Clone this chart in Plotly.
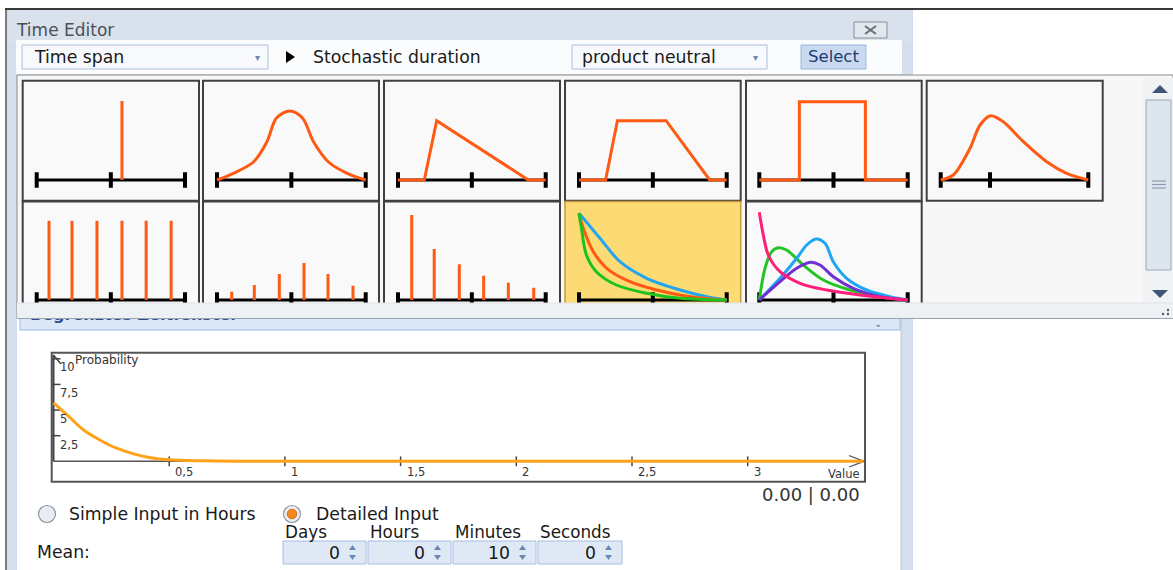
import plotly.graph_objects as go

W, H = 1173, 570

# ---------------- data ----------------
# main chart (probability density of stochastic duration)
prob_x = [0, 0.06, 0.13, 0.2, 0.27, 0.35, 0.42, 0.5, 0.65, 0.8, 1.0, 1.5, 2.0, 2.5, 3.0, 3.5]
prob_y = [5.7, 4.5, 3.05, 2.08, 1.3, 0.7, 0.35, 0.15, 0.05, 0.01, 0, 0, 0, 0, 0, 0]
x_tick_vals = [0.5, 1, 1.5, 2, 2.5, 3]
x_tick_labels = ["0,5", "1", "1,5", "2", "2,5", "3"]
y_tick_vals = [2.5, 5, 7.5, 10]
y_tick_labels = ["2,5", "5", "7,5", "10"]

# thumbnails (x: 0..2 along the axis, y: fraction of cell height)
spike_x = [1.15]
spike_h = [0.79]
normal_x = [0, 0.22, 0.49, 0.67, 0.8, 0.98, 1.15, 1.3, 1.5, 1.75, 2.0]
normal_y = [0, 0.067, 0.18, 0.38, 0.62, 0.69, 0.62, 0.38, 0.18, 0.067, 0]
tri_x = [0, 0.356, 0.524, 1.765, 2.0]
tri_y = [0, 0, 0.593, 0, 0]
trap_x = [0, 0.36, 0.52, 1.18, 1.77, 2.0]
trap_y = [0, 0, 0.593, 0.593, 0, 0]
unif_x = [0, 0.54, 0.54, 1.43, 1.43, 2.0]
unif_y = [0, 0, 0.783, 0.783, 0, 0]
lognorm_x = [0, 0.171, 0.397, 0.533, 0.677, 0.848, 1.12, 1.436, 1.707, 2.0]
lognorm_y = [0, 0.05, 0.317, 0.55, 0.643, 0.583, 0.383, 0.183, 0.067, 0]
equal_bars_x = [0.166, 0.476, 0.813, 1.15, 1.476, 1.813]
equal_bars_h = [0.793, 0.793, 0.793, 0.793, 0.793, 0.793]
binom_x = [0.198, 0.502, 0.838, 1.17, 1.493, 1.829]
binom_h = [0.083, 0.15, 0.26, 0.37, 0.26, 0.143]
geom_x = [0.186, 0.49, 0.83, 1.16, 1.494, 1.838]
geom_h = [0.85, 0.51, 0.357, 0.243, 0.173, 0.123]
exp_blue_x = [0, 0.284, 0.555, 0.917, 1.37, 1.73, 2.0]
exp_blue_y = [0.867, 0.617, 0.383, 0.217, 0.1, 0.033, 0]
exp_orange_x = [0, 0.058, 0.194, 0.375, 0.69, 1.05, 1.5, 2.0]
exp_orange_y = [0.867, 0.717, 0.483, 0.317, 0.183, 0.1, 0.033, 0]
exp_green_x = [0, 0.033, 0.1, 0.235, 0.506, 0.917, 1.37, 2.0]
exp_green_y = [0.867, 0.717, 0.45, 0.283, 0.15, 0.067, 0.017, 0]
gamma_pink_x = [0, 0.054, 0.121, 0.279, 0.549, 0.908, 1.357, 2.0]
gamma_pink_y = [0.877, 0.65, 0.45, 0.283, 0.167, 0.1, 0.05, 0]
gamma_green_x = [0, 0.077, 0.167, 0.256, 0.369, 0.593, 0.863, 1.222, 1.626, 2.0]
gamma_green_y = [0, 0.317, 0.483, 0.523, 0.5, 0.35, 0.2, 0.1, 0.033, 0]
gamma_blue_x = [0, 0.279, 0.504, 0.639, 0.764, 0.886, 0.997, 1.177, 1.447, 1.761, 2.0]
gamma_blue_y = [0, 0.217, 0.417, 0.55, 0.61, 0.567, 0.383, 0.217, 0.1, 0.033, 0]
gamma_purple_x = [0, 0.279, 0.504, 0.693, 0.818, 0.997, 1.267, 1.626, 2.0]
gamma_purple_y = [0, 0.183, 0.317, 0.377, 0.35, 0.233, 0.117, 0.033, 0]

spin_labels = ["Days", "Hours", "Minutes", "Seconds"]
spin_values = ["0", "0", "10", "0"]

# ---------------- helpers ----------------
FONT = "DejaVu Sans"
ORANGE = "#ff5a14"
TS = 17.3  # UI text size


def px(x):
    return x / W


def py(y):
    return 1 - y / H


shapes = []
annotations = []


def rect(x0, y0, x1, y1, fill=None, line=None, lw=1, layer="below"):
    shapes.append(dict(type="rect", xref="paper", yref="paper",
                       x0=px(x0), x1=px(x1), y0=py(y1), y1=py(y0),
                       fillcolor=fill or "rgba(0,0,0,0)",
                       line=dict(color=line or "rgba(0,0,0,0)", width=lw if line else 0),
                       layer=layer))


def seg(x0, y0, x1, y1, color, lw=1, layer="below"):
    shapes.append(dict(type="line", xref="paper", yref="paper",
                       x0=px(x0), x1=px(x1), y0=py(y0), y1=py(y1),
                       line=dict(color=color, width=lw), layer=layer))


def path(pts, fill=None, color=None, lw=1, closed=True, layer="below"):
    d = "M " + " L ".join(f"{px(a):.5f},{py(b):.5f}" for a, b in pts)
    if closed:
        d += " Z"
    shapes.append(dict(type="path", xref="paper", yref="paper", path=d,
                       fillcolor=fill or "rgba(0,0,0,0)",
                       line=dict(color=color or "rgba(0,0,0,0)", width=lw if color else 0),
                       layer=layer))


def circle(cx, cy, r, fill, line, lw=1):
    shapes.append(dict(type="circle", xref="paper", yref="paper",
                       x0=px(cx - r), x1=px(cx + r), y0=py(cy + r), y1=py(cy - r),
                       fillcolor=fill, line=dict(color=line, width=lw), layer="above"))


def text(x, y, s, size=TS, color="#1a1a1a", anchor="left", bold=False, family=FONT):
    annotations.append(dict(x=px(x), y=py(y), xref="paper", yref="paper", text=s,
                            showarrow=False, xanchor=anchor, yanchor="middle",
                            font=dict(family=family, size=size, color=color,
                                      weight="bold" if bold else "normal")))


# ---------------- window chrome ----------------
seg(5, 9, 1173, 9, "#3a3a3a", 2)
rect(6, 10, 913, 570, fill="#d3dfed")                # window frame (light blue)
rect(8, 10, 911, 42, fill="#d9e2ec")                 # title bar
seg(6, 10, 6, 570, "#555555", 1.5)
text(14, 30, "Time Editor", 17, "#4a5058")
# close button
rect(854, 22, 887, 38, fill="#e3e8ef", line="#858b95", lw=1)
seg(865, 26, 876, 34, "#6a6f78", 2)
seg(865, 34, 876, 26, "#6a6f78", 2)
# toolbar
rect(16, 40, 902, 74, fill="#fbfcfd")
rect(22, 45, 268, 69, fill="#f7f9fc", line="#a9bfdc")
text(32, 57, "Time span")
text(257, 58, "▾", 10, "#6b86aa", anchor="center")
path([(286, 51), (286, 63), (295, 57)], fill="#000000")
text(311, 57, "Stochastic duration")
rect(572, 45, 767, 69, fill="#f7f9fc", line="#a9bfdc")
text(580, 57, "product neutral")
text(755, 58, "▾", 10, "#6b86aa", anchor="center")
rect(801, 45, 866, 69, fill="#c8d9f0", line="#9bb7dc")
text(833.5, 57, "Select", 16.5, "#1d3d75", anchor="center")

# window content (below popup)
rect(17, 300, 901, 570, fill="#ffffff")
seg(901, 74, 901, 570, "#b8c6d8", 1)

# collapsed header "Begrenztes Zeitfenster" (mostly hidden by popup)
rect(20, 312, 900, 330, fill="#dbe7f7", line="#9cbbe2", lw=1)
text(878, 323, "⌄", 10, "#5a78a8", anchor="center")

# ---------------- popup with distribution gallery ----------------
rect(17, 75, 1173, 318, fill="#f7f7f7", line="#8c8c8c", lw=1)
cols = [(22.7, 199), (203, 379), (384, 560), (565, 740.7), (746, 921.7), (926.7, 1102.7)]
for i, (a, b) in enumerate(cols):
    rect(a, 80.7, b, 200.7, fill="#f9f9f9", line="#404040", lw=2)
    if i < 5:
        if i == 3:
            rect(a, 201.5, b, 312, fill="#fcdb74", line="#c99a3e", lw=1.5)
        else:
            rect(a, 201.5, b, 312, fill="#f9f9f9", line="#404040", lw=2)

# scrollbar
rect(1143, 78, 1173, 303, fill="#f1f2f4")
rect(1146, 100, 1171, 270, fill="#dde5ee", line="#99a8bb", lw=1)
for gy in (181, 184.5, 188):
    seg(1152, gy, 1166, gy, "#8c9bb0", 1.2)
path([(1152, 93), (1168, 93), (1160, 85)], fill="#3f5677")
path([(1152, 290), (1168, 290), (1160, 298)], fill="#3f5677")

# bottom strip of the popup (covers the lower part of the 2nd row)
rect(17, 303, 1173, 318, fill="#eef1f4", layer="above")
seg(17, 303, 1173, 303, "#dfe3e8", 1, layer="above")
seg(17, 318.5, 1173, 318.5, "#9aa3ad", 1.2, layer="above")
for dx, dy in ((1163, 314), (1168, 314), (1168, 310)):
    circle(dx, dy, 1.2, "#4a5a78", "#4a5a78", 0)

# ---------------- figure & axes ----------------
fig = go.Figure()
layout_axes = {}
PAD = 14


def thumb_axes(k, L, R, ay):
    unit = (R - L) / 2
    layout_axes[f"xaxis{k}"] = dict(domain=[px(L - PAD), px(R + PAD)],
                                    range=[-PAD / unit, 2 + PAD / unit],
                                    visible=False, anchor=f"y{k}", fixedrange=True)
    layout_axes[f"yaxis{k}"] = dict(domain=[py(ay + PAD), py(ay - 100 - PAD)],
                                    range=[-PAD / 100, 1 + PAD / 100],
                                    visible=False, anchor=f"x{k}", fixedrange=True)
    return f"x{k}", f"y{k}"


def axis_trace(xa, ya, ticks=(0, 1, 2)):
    fig.add_trace(go.Scatter(x=[0, 2], y=[0, 0], mode="lines", xaxis=xa, yaxis=ya,
                             line=dict(color="#000000", width=3), hoverinfo="skip"))
    fig.add_trace(go.Scatter(x=list(ticks), y=[0] * len(ticks), mode="markers",
                             xaxis=xa, yaxis=ya, hoverinfo="skip",
                             marker=dict(symbol="line-ns", size=11,
                                         line=dict(color="#000000", width=4))))


def curve(xa, ya, xs, ys, color=ORANGE, shape="linear", width=3):
    fig.add_trace(go.Scatter(x=xs, y=ys, mode="lines", xaxis=xa, yaxis=ya,
                             line=dict(color=color, width=width, shape=shape,
                                       smoothing=0.9 if shape == "spline" else None),
                             hoverinfo="skip"))


def bars(xa, ya, xs, hs, color=ORANGE):
    bx, by = [], []
    for xv, hv in zip(xs, hs):
        bx += [xv, xv, None]
        by += [0, hv, None]
    fig.add_trace(go.Scatter(x=bx, y=by, mode="lines", xaxis=xa, yaxis=ya,
                             line=dict(color=color, width=3), hoverinfo="skip"))


axis_cols = [(36.7, 185), (217, 365.7), (398, 545.7), (579, 726.7), (759.3, 907.7), (940.7, 1088.3)]

# row 1
xa, ya = thumb_axes(1, *axis_cols[0], 180)
axis_trace(xa, ya)
bars(xa, ya, spike_x, spike_h)

xa, ya = thumb_axes(2, *axis_cols[1], 180)
axis_trace(xa, ya)
curve(xa, ya, normal_x, normal_y, shape="spline")

xa, ya = thumb_axes(3, *axis_cols[2], 180)
axis_trace(xa, ya)
curve(xa, ya, tri_x, tri_y)

xa, ya = thumb_axes(4, *axis_cols[3], 180)
axis_trace(xa, ya)
curve(xa, ya, trap_x, trap_y)

xa, ya = thumb_axes(5, *axis_cols[4], 180)
axis_trace(xa, ya)
curve(xa, ya, unif_x, unif_y)

xa, ya = thumb_axes(6, *axis_cols[5], 180)
axis_trace(xa, ya, ticks=(0, 0.668, 2))
curve(xa, ya, lognorm_x, lognorm_y, shape="spline")

# row 2
xa, ya = thumb_axes(7, *axis_cols[0], 300)
axis_trace(xa, ya)
bars(xa, ya, equal_bars_x, equal_bars_h)

xa, ya = thumb_axes(8, *axis_cols[1], 300)
axis_trace(xa, ya)
bars(xa, ya, binom_x, binom_h)

xa, ya = thumb_axes(9, *axis_cols[2], 300)
axis_trace(xa, ya)
bars(xa, ya, geom_x, geom_h)

xa, ya = thumb_axes(10, *axis_cols[3], 300)
axis_trace(xa, ya)
curve(xa, ya, exp_blue_x, exp_blue_y, "#22a6f2", "spline")
curve(xa, ya, exp_orange_x, exp_orange_y, ORANGE, "spline")
curve(xa, ya, exp_green_x, exp_green_y, "#1ec21e", "spline")

xa, ya = thumb_axes(11, *axis_cols[4], 300)
axis_trace(xa, ya)
curve(xa, ya, gamma_green_x, gamma_green_y, "#25c425", "spline")
curve(xa, ya, gamma_blue_x, gamma_blue_y, "#1ea6f5", "spline")
curve(xa, ya, gamma_purple_x, gamma_purple_y, "#7030d2", "spline")
curve(xa, ya, gamma_pink_x, gamma_pink_y, "#ff1f78", "spline")

# overlay axis in pixel units (for the partly hidden header text)
layout_axes["xaxis13"] = dict(domain=[0, 1], range=[0, W], visible=False, anchor="y13", fixedrange=True)
layout_axes["yaxis13"] = dict(domain=[0, 1], range=[H, 0], visible=False, anchor="x13", fixedrange=True)
fig.add_trace(go.Scatter(x=[30], y=[316], mode="text", text=["<b>Begrenztes Zeitfenster</b>"],
                         textposition="middle right", xaxis="x13", yaxis="y13",
                         textfont=dict(family=FONT, size=16, color="#2a4f8f"),
                         cliponaxis=False, hoverinfo="skip"))

# ---------------- main chart ----------------
OX, OY = 53.5, 461.3        # origin in pixels
UX, UY = 231.4, 10.25       # pixels per unit
L_, R_, B_, T_ = 48, 872, 472, 350
layout_axes["xaxis12"] = dict(domain=[px(L_), px(R_)],
                              range=[(L_ - OX) / UX, (R_ - OX) / UX],
                              visible=False, anchor="y12", fixedrange=True)
layout_axes["yaxis12"] = dict(domain=[py(B_), py(T_)],
                              range=[(OY - B_) / UY, (OY - T_) / UY],
                              visible=False, anchor="x12", fixedrange=True)

rect(51.7, 352.7, 865, 481.7, fill="#ffffff", line="#555555", lw=2)
seg(OX, OY, 864, OY, "#555555", 1.5)
seg(OX, OY, OX, 355, "#444444", 2)
seg(OX, 355, 61, 364, "#444444", 1.5)
seg(849, 455.5, 864, OY, "#555555", 1.3)
seg(849, 467, 864, OY, "#555555", 1.3)

fig.add_trace(go.Scatter(x=x_tick_vals, y=[0] * len(x_tick_vals), mode="markers",
                         xaxis="x12", yaxis="y12", hoverinfo="skip",
                         marker=dict(symbol="line-ns", size=7, line=dict(color="#444444", width=1.5))))
fig.add_trace(go.Scatter(x=[0.012] * len(y_tick_vals), y=y_tick_vals, mode="markers",
                         xaxis="x12", yaxis="y12", hoverinfo="skip",
                         marker=dict(symbol="line-ew", size=6, line=dict(color="#444444", width=1.5))))
fig.add_trace(go.Scatter(x=prob_x, y=prob_y, mode="lines", xaxis="x12", yaxis="y12",
                         line=dict(color="#ffa21a", width=3, shape="spline", smoothing=1.0),
                         hoverinfo="skip"))

for v, lab in zip(x_tick_vals, x_tick_labels):
    annotations.append(dict(x=v, y=0, xref="x12", yref="y12", text=lab, showarrow=False,
                            xanchor="left", yanchor="middle", xshift=4, yshift=-11,
                            font=dict(family=FONT, size=11.5, color="#333333")))
for v, lab in zip(y_tick_vals, y_tick_labels):
    annotations.append(dict(x=0, y=v, xref="x12", yref="y12", text=lab, showarrow=False,
                            xanchor="left", yanchor="middle", xshift=4,
                            yshift=-8 if v == 10 else -9,
                            font=dict(family=FONT, size=11.5, color="#333333")))
text(73, 359.5, "Probability", 12, "#333333")
text(862, 474, "Value", 11.5, "#333333", anchor="right")
text(862, 494, "0.00 | 0.00", 18, "#333333", anchor="right")

# ---------------- input controls ----------------
circle(47, 514, 8.5, "#e9ecf0", "#8d97a6", 1.2)
text(67, 513.5, "Simple Input in Hours")
circle(292, 514, 8.5, "#eceef2", "#8d97a6", 1.2)
circle(292, 514, 4.8, "#f28a24", "#d86a10", 1)
text(314, 513.5, "Detailed Input")
text(35, 552, "Mean:")

boxes = [(283, 366), (368, 451), (453, 536), (538, 622)]
for (a, b), lab, val in zip(boxes, spin_labels, spin_values):
    text(a, 531.5, lab, 16.8)
    rect(a, 541, b, 564, fill="#dfe9f6", line="#a6bfe0", lw=1)
    text(b - 24, 552.5, val, anchor="right")
    path([(b - 17, 550), (b - 10, 550), (b - 13.5, 545)], fill="#6d89b3")
    path([(b - 17, 555), (b - 10, 555), (b - 13.5, 560)], fill="#6d89b3")

fig.update_layout(
    width=W, height=H,
    margin=dict(l=0, r=0, t=0, b=0),
    paper_bgcolor="#ffffff", plot_bgcolor="rgba(0,0,0,0)",
    showlegend=False,
    shapes=shapes, annotations=annotations,
    **layout_axes,
)
fig.write_html("out.html", config={"displayModeBar": False},
               post_script="document.body.style.margin='0';document.body.style.overflow='hidden';")
